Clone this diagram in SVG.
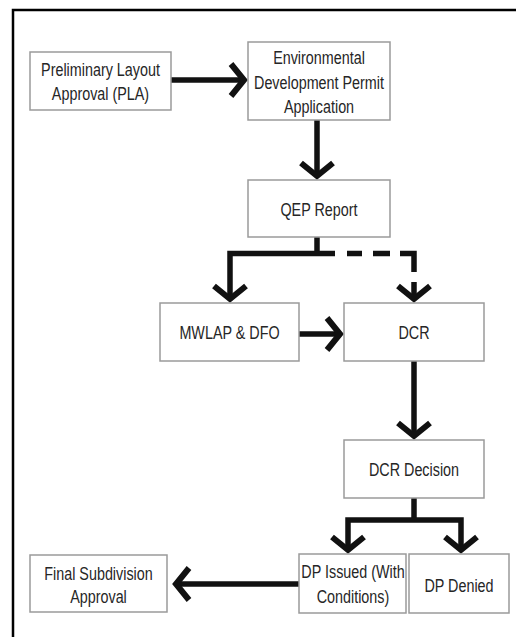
<svg xmlns="http://www.w3.org/2000/svg" width="516" height="637" viewBox="0 0 516 637">
<style>
.box{fill:#fff;stroke:#9a9a9a;stroke-width:1.5}
.t{font-family:"Liberation Sans",Arial,sans-serif;font-size:17.5px;fill:#262626;text-anchor:middle}
.c{fill:none;stroke:#111;stroke-width:5.5;stroke-linejoin:miter}
.a{marker-end:url(#chev)}
</style>
<defs>
<marker id="chev" markerUnits="userSpaceOnUse" refX="0" refY="0" markerWidth="40" markerHeight="40" orient="auto" overflow="visible">
<path d="M-13,-16 L0,0 L-13,16" fill="none" stroke="#111" stroke-width="6" stroke-linejoin="miter"/>
</marker>
</defs>
<rect width="516" height="637" fill="#fff"/>
<rect x="13" y="10" width="520" height="640" fill="none" stroke="#000" stroke-width="2.5"/>

<g id="connectors">
<path class="c a" d="M171,80 H244"/>
<path class="c a" d="M317,120 V176"/>
<path class="c" d="M317,237 V256"/>
<path class="c a" d="M335,253.5 H230 V299"/>
<path class="c" d="M347,253.5 H362 M373,253.5 H390"/>
<path class="c" d="M400,253.5 H414 V272"/>
<path class="c a" d="M414,282 V299"/>
<path class="c a" d="M299,334 H340"/>
<path class="c a" d="M414,361 V436"/>
<path class="c" d="M414,498 V522"/>
<path class="c a" d="M414,520 H348 V550"/>
<path class="c a" d="M414,520 H461 V550"/>
<path class="c a" d="M299,584 H176"/>
</g>

<g id="pla">
<rect class="box" x="30" y="52" width="141" height="58"/>
<text class="t" transform="translate(100.5,76) scale(0.82,1)">Preliminary Layout</text>
<text class="t" transform="translate(100.5,100) scale(0.82,1)">Approval (PLA)</text>
</g>
<g id="env">
<rect class="box" x="248" y="42" width="142" height="78"/>
<text class="t" transform="translate(319,64) scale(0.82,1)">Environmental</text>
<text class="t" transform="translate(319,88.5) scale(0.82,1)">Development Permit</text>
<text class="t" transform="translate(319,113) scale(0.82,1)">Application</text>
</g>
<g id="qep">
<rect class="box" x="248" y="180" width="142" height="57"/>
<text class="t" transform="translate(319,215.5) scale(0.82,1)">QEP Report</text>
</g>
<g id="mwlap">
<rect class="box" x="160" y="303" width="139" height="58"/>
<text class="t" transform="translate(229.5,339) scale(0.82,1)">MWLAP &amp; DFO</text>
</g>
<g id="dcr">
<rect class="box" x="344" y="303" width="140" height="58"/>
<text class="t" transform="translate(414,339) scale(0.82,1)">DCR</text>
</g>
<g id="dcrdecision">
<rect class="box" x="344" y="440" width="140" height="58"/>
<text class="t" transform="translate(414,475.5) scale(0.82,1)">DCR Decision</text>
</g>
<g id="dpissued">
<rect class="box" x="299" y="554" width="107" height="59"/>
<text class="t" transform="translate(353,578) scale(0.82,1)">DP Issued (With</text>
<text class="t" transform="translate(353,603) scale(0.82,1)">Conditions)</text>
</g>
<g id="dpdenied">
<rect class="box" x="409" y="554" width="100" height="59"/>
<text class="t" transform="translate(459,591.5) scale(0.82,1)">DP Denied</text>
</g>
<g id="final">
<rect class="box" x="30" y="555" width="137" height="57"/>
<text class="t" transform="translate(98.5,579.5) scale(0.82,1)">Final Subdivision</text>
<text class="t" transform="translate(98.5,603) scale(0.82,1)">Approval</text>
</g>
</svg>
